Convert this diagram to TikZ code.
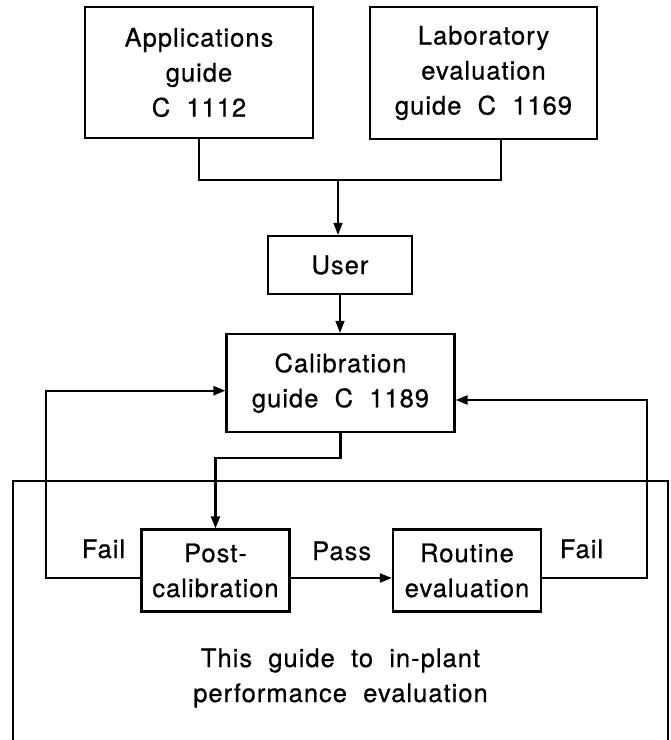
\documentclass[tikz,border=0pt]{standalone}
\usepackage{fontspec}
\setmainfont{TeX Gyre Heros}[LetterSpace=4,WordSpace=2,FakeBold=0.6]
\usetikzlibrary{arrows.meta}
\tikzset{
  box/.style={draw,line width=2.2pt,align=center,inner sep=0pt},
  conn/.style={line width=1.5pt},
  feed/.style={line width=2.2pt},
  tip/.style={-{Triangle[length=12pt,width=9pt]}},
  lbl/.style={anchor=base,inner sep=0pt},
}
\begin{document}
\begin{tikzpicture}[x=1pt,y=-1pt,font=\fontsize{25.5}{35}\selectfont]
\useasboundingbox (0,0) rectangle (671,740);
% guides feeding the user
\node[box,minimum width=228,minimum height=131] (app) at (199,72.5) {Applications\\guide\\C 1112};
\node[box,minimum width=227,minimum height=132] (lab) at (483.5,73) {Laboratory\\evaluation\\guide C 1169};
\node[box,minimum width=144,minimum height=58] (user) at (340,265) {User};
\node[box,minimum width=228,minimum height=98] (cal) at (340.5,383) {Calibration\\guide C 1189};
% this guide
\draw[feed] (12.7,760) -- (12.7,481) -- (667.7,481) -- (667.7,760);
\node[box,minimum width=148,minimum height=82] (post) at (215.5,570.5) {Post-\\calibration};
\node[box,minimum width=148,minimum height=82] (routine) at (467,570.5) {Routine\\evaluation};
\node[lbl] (failL) at (103.5,558) {Fail};
\node[lbl] (pass) at (341.7,560) {Pass};
\node[lbl] (failR) at (581.5,558) {Fail};
\node[align=center,inner sep=0pt] (scope) at (340.5,678) {This guide to in-plant\\performance evaluation};
% connectors
\coordinate (labout) at (501,139);
\coordinate (join) at (338,180);
\coordinate (lev) at (0,578);
\coordinate (lfb) at (46,390.7);
\coordinate (rfb) at (646.7,400);
\draw[conn] (app.south) -- (app.south |- join) -- (labout |- join) -- (labout);
\draw[conn,tip] (join) -- (join |- user.north);
\draw[conn,tip] (user.south) -- (user.south |- cal.north);
\draw[feed,tip] (cal.south) -- ++(0,24.7) -| (post.north);
\draw[feed,tip] (post.east |- lev) -- (routine.west |- lev);
\draw[feed,tip] (post.west |- lev) -| (lfb) -- (cal.west |- lfb);
\draw[feed,tip] (routine.east |- lev) -| (rfb) -- (cal.east |- rfb);
\end{tikzpicture}
\end{document}
